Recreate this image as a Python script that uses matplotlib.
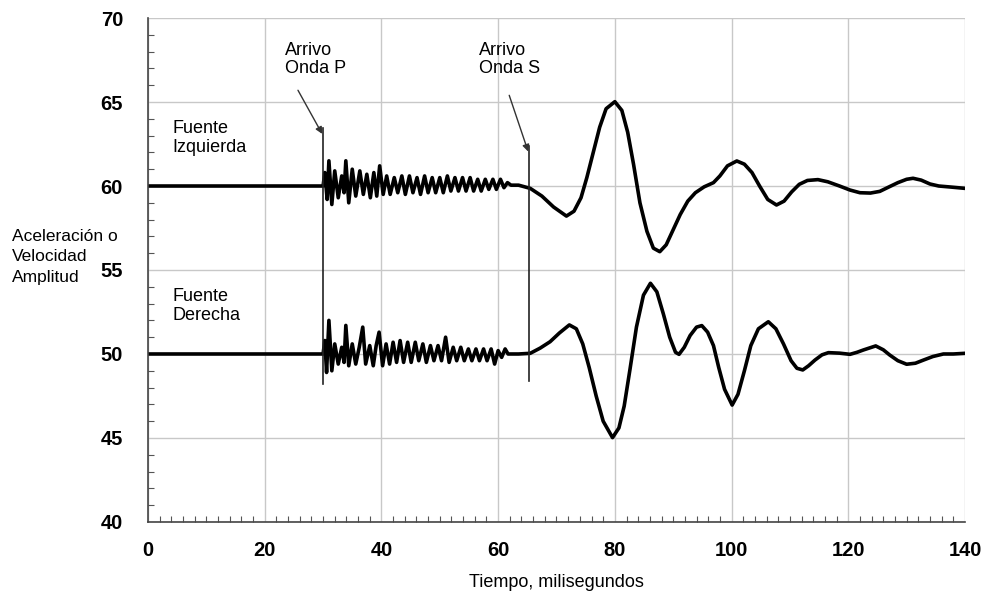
import matplotlib.pyplot as plt
from matplotlib.ticker import MultipleLocator

plt.rcParams["font.family"] = ["Liberation Sans", "DejaVu Sans"]

# Fuente Izquierda (upper trace), time in ms and amplitude
t_izq = [0, 30.0, 30.3, 30.7, 31.0, 31.5, 32.0, 32.6, 33.2, 33.6, 33.9, 34.4,
         35.0, 35.6, 36.3, 36.9, 37.5, 38.1, 38.7, 39.2, 39.7, 40.3, 40.9,
         41.5, 42.2, 42.8, 43.5, 44.1, 44.8, 45.4, 46.1, 46.7, 47.4, 48.0,
         48.7, 49.3, 50.0, 50.6, 51.3, 51.9, 52.6, 53.2, 53.9, 54.5, 55.2,
         55.8, 56.5, 57.1, 57.8, 58.4, 59.1, 59.7, 60.4, 61.0, 61.6, 62.2,
         63.5, 65.5, 67.5, 69.5, 71.7, 73.0, 74.2, 75.2, 76.3, 77.4, 78.5,
         80.0, 81.2, 82.2, 83.2, 84.3, 85.5, 86.6, 87.7, 88.8, 90.0, 91.2,
         92.5, 93.8, 95.3, 96.9, 98.0, 99.3, 100.9, 102.2, 103.5, 104.8,
         106.2, 107.7, 109.0, 110.3, 111.6, 113.0, 114.8, 116.5, 118.5,
         120.3, 122.0, 123.8, 125.4, 127.0, 128.5, 130.0, 131.1, 132.5,
         134.0, 135.5, 137.5, 140.0]
v_izq = [60.0, 60.0, 60.8, 59.2, 61.5, 58.9, 60.9, 59.3, 60.6, 59.6, 61.5, 59.0,
         61.0, 59.4, 60.9, 59.5, 60.7, 59.3, 60.8, 59.4, 61.2, 59.5, 60.6,
         59.5, 60.5, 59.6, 60.6, 59.5, 60.6, 59.6, 60.5, 59.5, 60.6, 59.6,
         60.5, 59.6, 60.5, 59.6, 60.6, 59.7, 60.5, 59.7, 60.5, 59.7, 60.5,
         59.7, 60.4, 59.7, 60.4, 59.8, 60.4, 59.8, 60.4, 59.9, 60.2, 60.05,
         60.05, 59.86, 59.4, 58.75, 58.21, 58.5, 59.3, 60.5, 62.0, 63.5, 64.6,
         65.02, 64.5, 63.2, 61.3, 59.0, 57.3, 56.3, 56.09, 56.5, 57.4, 58.3,
         59.1, 59.6, 59.95, 60.2, 60.6, 61.2, 61.49, 61.3, 60.8, 60.0,
         59.2, 58.87, 59.1, 59.65, 60.1, 60.33, 60.38, 60.25, 60.0,
         59.76, 59.6, 59.58, 59.68, 59.95, 60.2, 60.4, 60.46, 60.35,
         60.12, 60.0, 59.94, 59.86]

# Fuente Derecha (lower trace)
t_der = [0, 30.0, 30.3, 30.6, 31.0, 31.5, 32.0, 32.6, 33.2, 33.6, 33.9, 34.4,
         35.0, 35.6, 36.2, 36.8, 37.3, 38.0, 38.6, 39.1, 39.6, 40.2, 40.8,
         41.4, 42.0, 42.6, 43.2, 43.8, 44.5, 45.1, 45.8, 46.4, 47.1, 47.7,
         48.4, 49.0, 49.7, 50.3, 51.0, 51.6, 52.3, 52.9, 53.6, 54.2, 54.9,
         55.5, 56.2, 56.8, 57.5, 58.1, 58.8, 59.4, 60.0, 60.6, 61.2, 61.7,
         63.5, 65.5, 67.2, 68.9, 70.5, 72.2, 73.4, 74.5, 75.6, 76.8, 78.0,
         79.6, 80.7, 81.6, 82.6, 83.7, 84.9, 86.1, 87.2, 88.3, 89.4, 90.4,
         91.0, 91.9, 92.9, 94.0, 94.9, 95.9, 96.9, 97.8, 98.8, 100.1, 101.1,
         102.2, 103.3, 104.6, 106.3, 107.6, 108.9, 110.2, 111.2, 112.2,
         113.2, 114.3, 115.5, 116.6, 118.5, 120.3, 121.5, 122.6, 124.7,
         126.0, 127.1, 128.5, 130.0, 131.5, 132.9, 134.5, 136.3, 138.0, 140.0]
v_der = [50.0, 50.0, 50.8, 48.9, 52.0, 49.0, 50.6, 49.4, 50.4, 49.5, 51.7, 49.3,
         50.6, 49.4, 50.4, 51.6, 49.4, 50.5, 49.3, 50.5, 51.3, 49.3, 50.6,
         49.4, 50.7, 49.5, 50.8, 49.5, 50.7, 49.5, 50.7, 49.6, 50.6, 49.5,
         50.5, 49.6, 50.5, 49.6, 51.0, 49.5, 50.4, 49.6, 50.4, 49.6, 50.3,
         49.6, 50.3, 49.6, 50.3, 49.6, 50.3, 49.4, 50.2, 49.8, 50.3, 50.0,
         50.0, 50.04, 50.35, 50.73, 51.25, 51.73, 51.5, 50.6, 49.2, 47.5, 46.0,
         45.02, 45.6, 46.9, 49.1, 51.6, 53.5, 54.21, 53.7, 52.4, 51.0, 50.1,
         49.98, 50.4, 51.1, 51.6, 51.69, 51.3, 50.5, 49.2, 47.9, 46.96, 47.6,
         49.0, 50.5, 51.5, 51.92, 51.5, 50.6, 49.6, 49.15, 49.05,
         49.3, 49.64, 49.95, 50.08, 50.05, 49.98, 50.1, 50.24, 50.48,
         50.25, 49.94, 49.6, 49.39, 49.45, 49.64, 49.85, 50.0, 50.0, 50.04]

# arrival markers: time, top and bottom of the vertical line
marker_t = [30.0, 65.3]
marker_top = [63.45, 62.4]
marker_bottom = [48.2, 48.4]
arrow_start = [(25.7, 65.7), (61.9, 65.4)]
arrival_labels = ["Arrivo\nOnda P", "Arrivo\nOnda S"]
arrival_label_pos = [(23.4, 68.6), (56.8, 68.6)]

source_labels = ["Fuente\nIzquierda", "Fuente\nDerecha"]
source_label_pos = [(4.2, 63.9), (4.2, 53.9)]

ylabel_lines = ["Aceleración o", "Velocidad", "Amplitud"]

fig = plt.figure(figsize=(9.88, 5.91), dpi=100)
ax = fig.add_axes([0.1498, 0.1168, 0.8269, 0.8527])

ax.plot(t_izq, v_izq, color="black", linewidth=2.6, solid_joinstyle="round")
ax.plot(t_der, v_der, color="black", linewidth=2.6, solid_joinstyle="round")

for t, top, bottom, start in zip(marker_t, marker_top, marker_bottom, arrow_start):
    ax.plot([t, t], [bottom, top], color="#222222", linewidth=1.2)
    ax.annotate("", xy=(t - 0.15, top - 0.35), xytext=start,
                arrowprops=dict(arrowstyle="-|>", color="#333333", lw=1.0,
                                mutation_scale=10, shrinkA=0, shrinkB=0))

for text, (x, y) in zip(arrival_labels, arrival_label_pos):
    ax.text(x, y, text, fontsize=13, va="top", ha="left", linespacing=1.15)
for text, (x, y) in zip(source_labels, source_label_pos):
    ax.text(x, y, text, fontsize=13, va="top", ha="left", linespacing=1.15)

ax.set_xlim(0, 140)
ax.set_ylim(40, 70)
ax.xaxis.set_major_locator(MultipleLocator(20))
ax.xaxis.set_minor_locator(MultipleLocator(2))
ax.yaxis.set_major_locator(MultipleLocator(5))
ax.yaxis.set_minor_locator(MultipleLocator(1))
ax.grid(True, which="major", color="#c8c8c8", linewidth=1.0)
ax.set_axisbelow(True)

ax.tick_params(axis="both", which="major", direction="in", length=0,
               labelsize=14.5)
ax.tick_params(axis="both", which="minor", direction="in", length=4,
               width=0.8, color="#555555")
ax.tick_params(top=False, right=False, which="both")
ax.tick_params(axis="x", pad=14)
ax.tick_params(axis="y", pad=18)
for lab in ax.get_xticklabels() + ax.get_yticklabels():
    lab.set_fontweight("bold")

for side in ["top", "right"]:
    ax.spines[side].set_visible(False)
for side in ["left", "bottom"]:
    ax.spines[side].set_color("#444444")
    ax.spines[side].set_linewidth(1.2)

ax.set_xlabel("Tiempo, milisegundos", fontsize=13, labelpad=10)
for i, line in enumerate(ylabel_lines):
    fig.text(0.012, 0.600 - i * 0.0345, line, fontsize=12.5,
             va="center", ha="left")

fig.savefig("out.png", dpi=100, facecolor="white")
